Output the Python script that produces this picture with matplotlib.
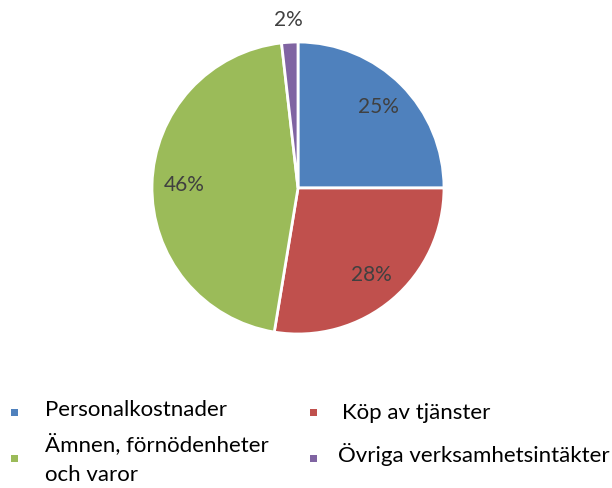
import numpy as np
import matplotlib.pyplot as plt
from matplotlib.patches import Rectangle

# Andelar (procent) per kostnadsslag
kategorier = ["Personalkostnader", "Köp av tjänster",
              "Ämnen, förnödenheter\noch varor", "Övriga verksamhetsintäkter"]
andelar = [25.0, 27.6, 45.6, 1.8]
farger = ["#4F81BD", "#C0504D", "#9BBB59", "#8064A2"]

plt.rcParams['font.family'] = ['Lato', 'DejaVu Sans']

W, H = 612, 488
fig = plt.figure(figsize=(W / 100, H / 100), dpi=100)

# Pajen: centrum (298, 188) px, radie 146 px
cx, cy, r = 298, 188, 146
ax = fig.add_axes([(cx - r) / W, (H - cy - r) / H, 2 * r / W, 2 * r / H])
wedges, _ = ax.pie(andelar, colors=farger, startangle=90, counterclock=False,
                   wedgeprops=dict(edgecolor="white", linewidth=2))
ax.set_xlim(-1.0, 1.0)
ax.set_ylim(-1.0, 1.0)
ax.axis("off")

# Procentetiketter
for w, v in zip(wedges, andelar):
    vinkel = np.deg2rad((w.theta1 + w.theta2) / 2)
    avst = 1.15 if v < 5 else 0.78
    ax.text(avst * np.cos(vinkel), avst * np.sin(vinkel), f"{v:.0f}%",
            ha="center", va="center", fontsize=15, color="#404040", clip_on=False)

# Förklaring längst ned
leg_pos = [(14, 412, 45, 410), (313, 412, 342, 413),
           (14, 458, 45, 459), (313, 458, 338, 455)]
for (mx, my, tx, ty), namn, f in zip(leg_pos, kategorier, farger):
    s = 7
    fig.patches.append(Rectangle(((mx - s / 2) / W, (H - my - s / 2) / H), s / W, s / H,
                                 transform=fig.transFigure, facecolor=f, edgecolor="none"))
    fig.text(tx / W, (H - ty) / H, namn, ha="left", va="center", fontsize=16,
             color="black", linespacing=1.6)

fig.savefig("out.png", dpi=100)
